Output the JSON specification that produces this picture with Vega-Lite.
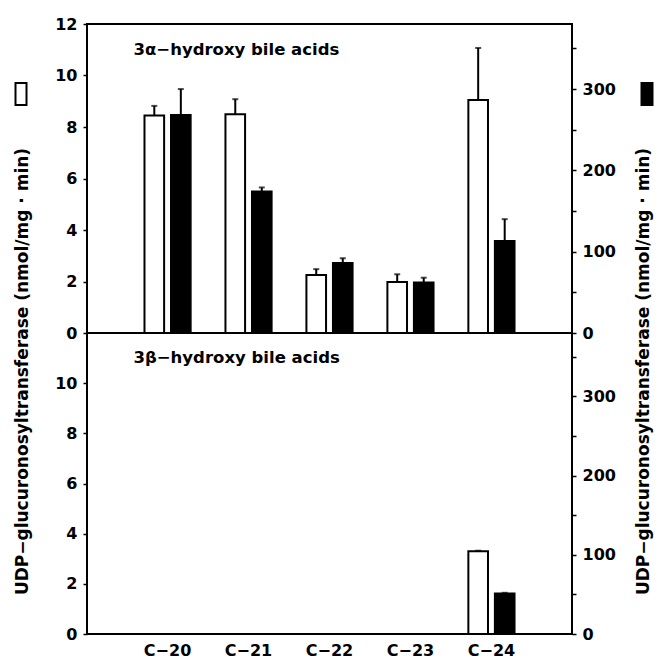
{
  "$schema": "https://vega.github.io/schema/vega-lite/v6.json",
  "background": "white",
  "padding": {"left": 8, "top": 15, "right": 5, "bottom": 5},
  "spacing": 0,
  "bounds": "flush",
  "config": {
    "font": "DejaVu Sans",
    "view": {"stroke": "black", "strokeWidth": 2},
    "axis": {"domain": false, "grid": false, "labelFont": "DejaVu Sans", "labelFontWeight": "bold", "labelFontSize": 16, "labelColor": "black", "tickColor": "black", "tickWidth": 1.5, "tickSize": 4, "labelPadding": 6, "titleFont": "DejaVu Sans", "titleFontWeight": "bold", "titleFontSize": 17, "titleColor": "black", "labelFlush": false, "labelOverlap": false, "labelBound": false},
    "concat": {"spacing": 0}
  },
  "datasets": {
    "top": [
      {"acid": "C−20", "series": "open", "value": 8.45, "hi": 8.82},
      {"acid": "C−20", "series": "filled", "value": 268, "hi": 300},
      {"acid": "C−21", "series": "open", "value": 8.5, "hi": 9.08},
      {"acid": "C−21", "series": "filled", "value": 174, "hi": 179},
      {"acid": "C−22", "series": "open", "value": 2.25, "hi": 2.48},
      {"acid": "C−22", "series": "filled", "value": 86, "hi": 92},
      {"acid": "C−23", "series": "open", "value": 1.98, "hi": 2.28},
      {"acid": "C−23", "series": "filled", "value": 62, "hi": 68},
      {"acid": "C−24", "series": "open", "value": 9.05, "hi": 11.07},
      {"acid": "C−24", "series": "filled", "value": 113, "hi": 140}
    ],
    "bottom": [
      {"acid": "C−24", "series": "open", "value": 3.3, "hi": 3.32},
      {"acid": "C−24", "series": "filled", "value": 51, "hi": 52}
    ]
  },
  "vconcat": [
    {
      "width": 485,
      "height": 309,
      "data": {"name": "top"},
      "layer": [
        {
          "layer": [
            {
              "transform": [{"filter": "datum.series === 'open'"}],
              "mark": {"type": "bar", "stroke": "black", "strokeWidth": 2},
              "encoding": {
                "x": {"field": "acid", "type": "nominal", "scale": {"domain": ["C−20", "C−21", "C−22", "C−23", "C−24"], "paddingInner": 0.43, "paddingOuter": 0.71}, "axis": null},
                "xOffset": {"field": "series", "type": "nominal", "scale": {"domain": ["open", "filled"], "paddingInner": 0.26, "paddingOuter": 0}},
                "y": {"field": "value", "type": "quantitative", "scale": {"domain": [0, 12], "nice": false},
                  "axis": {"orient": "left", "values": [0,1,2,3,4,5,6,7,8,9,10,11,12], "labelExpr": "datum.value % 2 === 0 ? datum.label : ''", "title": "UDP−glucuronosyltransferase (nmol/mg · min)", "titleX": -56, "titleY": 347, "titleAngle": 270, "titleAlign": "center", "titleBaseline": "bottom"}},
                "fill": {"field": "series", "type": "nominal", "scale": {"domain": ["open"], "range": ["white"]},
                  "legend": {"orient": "none", "legendX": -78, "legendY": 58, "title": null, "labelExpr": "''", "labelFontSize": 1, "symbolType": "M-0.5,-1H0.5V1H-0.5Z", "symbolSize": 484, "symbolStrokeColor": "black", "symbolStrokeWidth": 2, "padding": 0}}
              }
            },
            {
              "transform": [{"filter": "datum.series === 'open'"}],
              "mark": {"type": "rule", "color": "black", "strokeWidth": 2},
              "encoding": {
                "x": {"field": "acid", "type": "nominal"},
                "xOffset": {"field": "series", "type": "nominal"},
                "y": {"field": "value", "type": "quantitative"},
                "y2": {"field": "hi"}
              }
            },
            {
              "transform": [{"filter": "datum.series === 'open'"}],
              "mark": {"type": "tick", "color": "black", "thickness": 2, "size": 6},
              "encoding": {
                "x": {"field": "acid", "type": "nominal"},
                "xOffset": {"field": "series", "type": "nominal"},
                "y": {"field": "hi", "type": "quantitative"}
              }
            },
            {
              "data": {"values": [{"label": "3α−hydroxy bile acids"}]},
              "mark": {"type": "text", "align": "left", "baseline": "middle", "dx": -11, "fontSize": 16.5, "fontWeight": "bold", "color": "black"},
              "encoding": {
                "x": {"datum": "C−20", "type": "nominal", "bandPosition": 0},
                "y": {"datum": 11, "type": "quantitative"},
                "text": {"field": "label", "type": "nominal"}
              }
            }
          ]
        },
        {
          "layer": [
            {
              "transform": [{"filter": "datum.series === 'filled'"}],
              "mark": {"type": "bar", "stroke": "black", "strokeWidth": 2},
              "encoding": {
                "x": {"field": "acid", "type": "nominal"},
                "xOffset": {"field": "series", "type": "nominal"},
                "y": {"field": "value", "type": "quantitative", "scale": {"domain": [0, 380], "nice": false},
                  "axis": {"orient": "right", "values": [0,50,100,150,200,250,300,350], "labelExpr": "datum.value % 100 === 0 ? datum.label : ''", "title": "UDP−glucuronosyltransferase (nmol/mg · min)", "titleX": 80, "titleY": 347, "titleAngle": 270, "titleAlign": "center", "titleBaseline": "bottom"}},
                "fill": {"field": "series", "type": "nominal", "scale": {"domain": ["filled"], "range": ["black"]},
                  "legend": {"orient": "none", "legendX": 548, "legendY": 58, "title": null, "labelExpr": "''", "labelFontSize": 1, "symbolType": "M-0.5,-1H0.5V1H-0.5Z", "symbolSize": 484, "symbolStrokeColor": "black", "symbolStrokeWidth": 2, "padding": 0}}
              }
            },
            {
              "transform": [{"filter": "datum.series === 'filled'"}],
              "mark": {"type": "rule", "color": "black", "strokeWidth": 2},
              "encoding": {
                "x": {"field": "acid", "type": "nominal"},
                "xOffset": {"field": "series", "type": "nominal"},
                "y": {"field": "value", "type": "quantitative"},
                "y2": {"field": "hi"}
              }
            },
            {
              "transform": [{"filter": "datum.series === 'filled'"}],
              "mark": {"type": "tick", "color": "black", "thickness": 2, "size": 6},
              "encoding": {
                "x": {"field": "acid", "type": "nominal"},
                "xOffset": {"field": "series", "type": "nominal"},
                "y": {"field": "hi", "type": "quantitative"}
              }
            }
          ]
        }
      ],
      "resolve": {"scale": {"y": "independent", "fill": "independent"}, "legend": {"fill": "independent"}}
    },
    {
      "width": 485,
      "height": 301,
      "data": {"name": "bottom"},
      "layer": [
        {
          "layer": [
            {
              "transform": [{"filter": "datum.series === 'open'"}],
              "mark": {"type": "bar", "fill": "white", "stroke": "black", "strokeWidth": 2},
              "encoding": {
                "x": {"field": "acid", "type": "nominal", "scale": {"domain": ["C−20", "C−21", "C−22", "C−23", "C−24"], "paddingInner": 0.43, "paddingOuter": 0.71},
                  "axis": {"orient": "bottom", "title": null, "ticks": false, "labelAngle": 0, "labelPadding": 8, "labelFontSize": 16}},
                "xOffset": {"field": "series", "type": "nominal", "scale": {"domain": ["open", "filled"], "paddingInner": 0.26, "paddingOuter": 0}},
                "y": {"field": "value", "type": "quantitative", "scale": {"domain": [0, 12], "nice": false},
                  "axis": {"orient": "left", "values": [0,1,2,3,4,5,6,7,8,9,10,11], "labelExpr": "datum.value % 2 === 0 ? datum.label : ''", "title": null}}
              }
            },
            {
              "transform": [{"filter": "datum.series === 'open'"}],
              "mark": {"type": "tick", "color": "black", "thickness": 2, "size": 6},
              "encoding": {
                "x": {"field": "acid", "type": "nominal"},
                "xOffset": {"field": "series", "type": "nominal"},
                "y": {"field": "hi", "type": "quantitative"}
              }
            },
            {
              "data": {"values": [{"label": "3β−hydroxy bile acids"}]},
              "mark": {"type": "text", "align": "left", "baseline": "middle", "dx": -11, "fontSize": 16.5, "fontWeight": "bold", "color": "black"},
              "encoding": {
                "x": {"datum": "C−20", "type": "nominal", "bandPosition": 0},
                "y": {"datum": 11, "type": "quantitative"},
                "text": {"field": "label", "type": "nominal"}
              }
            }
          ]
        },
        {
          "layer": [
            {
              "transform": [{"filter": "datum.series === 'filled'"}],
              "mark": {"type": "bar", "fill": "black", "stroke": "black", "strokeWidth": 2},
              "encoding": {
                "x": {"field": "acid", "type": "nominal"},
                "xOffset": {"field": "series", "type": "nominal"},
                "y": {"field": "value", "type": "quantitative", "scale": {"domain": [0, 380], "nice": false},
                  "axis": {"orient": "right", "values": [0,50,100,150,200,250,300,350], "labelExpr": "datum.value % 100 === 0 ? datum.label : ''", "title": null}}
              }
            },
            {
              "transform": [{"filter": "datum.series === 'filled'"}],
              "mark": {"type": "tick", "color": "black", "thickness": 2, "size": 6},
              "encoding": {
                "x": {"field": "acid", "type": "nominal"},
                "xOffset": {"field": "series", "type": "nominal"},
                "y": {"field": "hi", "type": "quantitative"}
              }
            }
          ]
        }
      ],
      "resolve": {"scale": {"y": "independent"}}
    }
  ]
}
